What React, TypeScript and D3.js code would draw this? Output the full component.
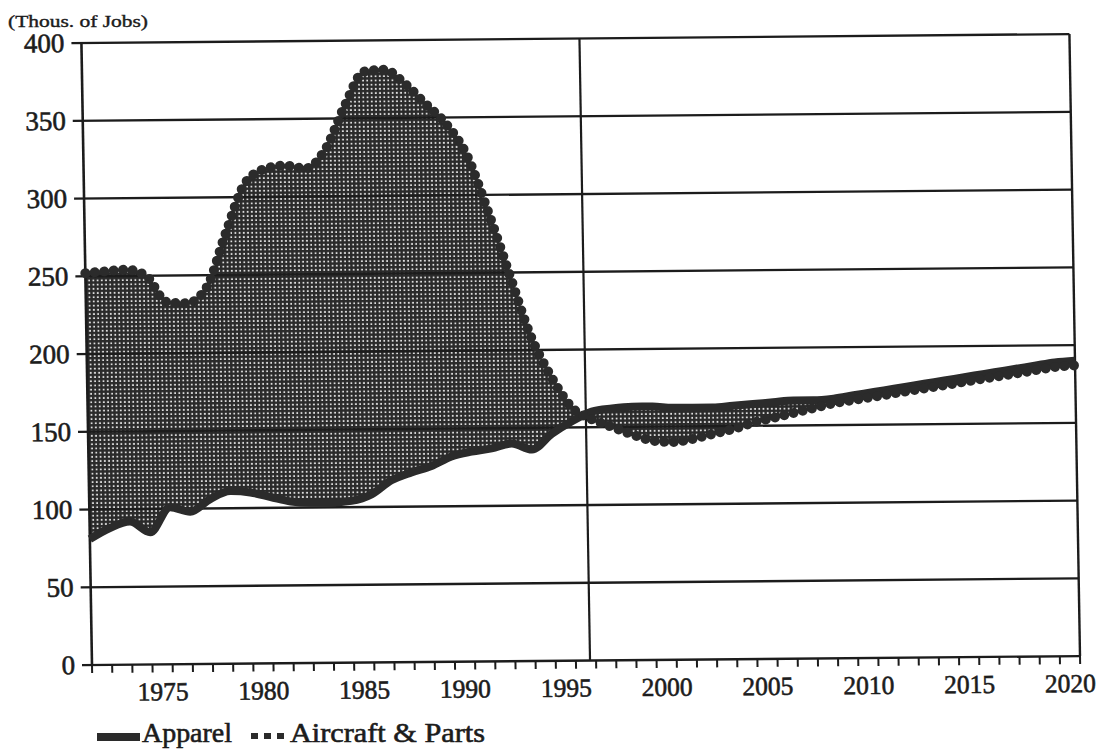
import * as d3 from "d3";

// year positions (start of each year period) 1972-2021
const years = [
  1972, 1973, 1974, 1975, 1976, 1977, 1978, 1979, 1980, 1981,
  1982, 1983, 1984, 1985, 1986, 1987, 1988, 1989, 1990, 1991,
  1992, 1993, 1994, 1995, 1996, 1997, 1998, 1999, 2000, 2001,
  2002, 2003, 2004, 2005, 2006, 2007, 2008, 2009, 2010, 2011,
  2012, 2013, 2014, 2015, 2016, 2017, 2018, 2019, 2020, 2021,
];

// thousands of jobs
const apparel = [
  81, 88, 92, 85, 101, 98, 106, 111, 110, 107,
  104, 103, 103, 104, 108, 117, 122, 126, 132, 135,
  137, 140, 136, 146, 154, 160, 162, 163, 163, 162,
  162, 162, 163, 164, 165, 166, 166, 167, 169, 171,
  173, 175, 177, 179, 181, 183, 185, 187, 189, 190,
];

const aircraft = [
  252, 253, 254, 250, 233, 232, 242, 277, 309, 318,
  320, 318, 330, 358, 380, 381, 372, 359, 346, 326,
  290, 250, 210, 183, 163, 155, 150, 145, 141, 140,
  142, 145, 148, 152, 155, 158, 161, 164, 166, 168,
  170, 172, 174, 176, 178, 180, 182, 184, 186, 187,
];

const yTicks = [0, 50, 100, 150, 200, 250, 300, 350, 400];
const yearLabels = [1975, 1980, 1985, 1990, 1995, 2000, 2005, 2010, 2015, 2020];
const forecastStart = 1996.7;

const W = 1111;
const H = 755;
const FONT = "'Liberation Serif', 'Times New Roman', serif";
const INK = "#1c1c1c";
const SERIES = "#2b2b2b";

export default function App() {
  const x = d3.scaleLinear().domain([1972, 2021]).range([92, 1080]);
  const y = d3.scaleLinear().domain([0, 400]).range([665, 43]);

  const rows = years.map((yr, i) => ({yr, a: apparel[i], c: aircraft[i]}));

  const band = d3.area<any>()
    .curve(d3.curveMonotoneX)
    .x(d => x(d.yr))
    .y0(d => y(d.a))
    .y1(d => y(d.c));
  const apparelLine = d3.line<any>().curve(d3.curveMonotoneX).x(d => x(d.yr)).y(d => y(d.a));
  const aircraftLine = d3.line<any>().curve(d3.curveMonotoneX).x(d => x(d.yr)).y(d => y(d.c));

  const [x0, x1] = x.range();
  const y0 = y(0);
  // the scanned page sits slightly askew
  const skew = `translate(${x0},${y0}) matrix(1,-0.009,0.017,1,0,0) translate(${-x0},${-y0})`;

  // scanned type looks heavier than a clean serif
  const ink = {fontFamily: FONT, fill: INK, stroke: INK, strokeWidth: 0.6};

  return (
    <svg width={W} height={H} style={{position: "fixed", left: 0, top: 0, background: "#fff"}}>
      <defs>
        <pattern id="hatch" width={4.2} height={4.2} patternUnits="userSpaceOnUse">
          <rect width={4.2} height={4.2} fill="#dcdcdc" />
          <rect width={4.2} height={2.4} fill="#2a2a2a" />
          <rect width={2.4} height={4.2} fill="#2a2a2a" />
        </pattern>
      </defs>

      <text x={8} y={27} fontSize={17} {...ink} strokeWidth={0.4} textLength={140} lengthAdjust="spacingAndGlyphs">
        (Thous. of Jobs)
      </text>

      <g transform={skew}>
        <path d={band(rows) ?? ""} fill="url(#hatch)" />

        {/* grid */}
        {yTicks.map(t => (
          <g key={t}>
            <line x1={x0 - 10} x2={x1} y1={y(t)} y2={y(t)} stroke={INK} strokeWidth={2.4} />
            <text x={75} y={y(t) + 9} textAnchor="end" fontSize={27} {...ink}>{t}</text>
          </g>
        ))}
        <line x1={x0} x2={x0} y1={y(400)} y2={y0} stroke={INK} strokeWidth={2.6} />
        <line x1={x1} x2={x1} y1={y(400)} y2={y0} stroke={INK} strokeWidth={2.4} />
        <line x1={x(forecastStart)} x2={x(forecastStart)} y1={y(400)} y2={y0} stroke={INK} strokeWidth={2.2} />

        {/* x ticks */}
        {years.map(yr => (
          <line key={yr} x1={x(yr)} x2={x(yr)} y1={y0} y2={y0 + 8} stroke={INK} strokeWidth={2} />
        ))}
        {yearLabels.map(yr => (
          <text key={yr} x={x(yr + 0.5)} y={701} textAnchor="middle" fontSize={26} {...ink}
                textLength={51} lengthAdjust="spacingAndGlyphs">{yr}</text>
        ))}

        {/* series */}
        <path d={apparelLine(rows) ?? ""} fill="none" stroke={SERIES} strokeWidth={8} strokeLinejoin="round" />
        <path d={aircraftLine(rows) ?? ""} fill="none" stroke={SERIES} strokeWidth={10}
              strokeDasharray="0 9.5" strokeLinecap="round" />
      </g>

      {/* legend */}
      <rect x={97} y={733} width={43} height={8} fill={SERIES} />
      <text x={142} y={742} fontSize={27} {...ink} textLength={90} lengthAdjust="spacingAndGlyphs">Apparel</text>
      <line x1={251} x2={285} y1={736} y2={736} stroke={SERIES} strokeWidth={6} strokeDasharray="7 6" />
      <text x={290} y={742} fontSize={27} {...ink} textLength={195} lengthAdjust="spacingAndGlyphs">Aircraft &amp; Parts</text>
    </svg>
  );
}
